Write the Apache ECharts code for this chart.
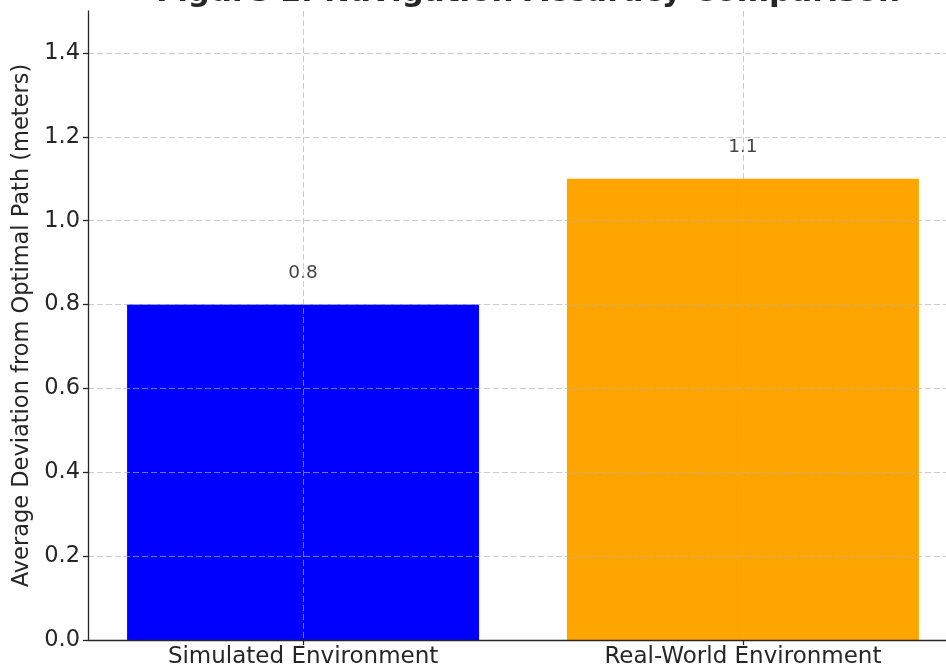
<!DOCTYPE html>
<html>
<head>
<meta charset="utf-8">
<script src="https://cdn.jsdelivr.net/npm/echarts@6/dist/echarts.min.js"></script>
<style>html,body{margin:0;padding:0;background:#fff}#c{width:946px;height:668px}</style>
</head>
<body>
<div id="c"></div>
<script>
const categories = ["Simulated Environment", "Real-World Environment"];
const deviations = [0.8, 1.1];
const barColors = ["#0000ff", "#ffa500"];
const yTicks = [0, 0.2, 0.4, 0.6, 0.8, 1.0, 1.2, 1.4];
const xTicks = [0, 1];
const titleText = "Figure 1: Navigation Accuracy Comparison";
const yName = "Average Deviation from Optimal Path (meters)";

const font = "DejaVu Sans";
const chart = echarts.init(document.getElementById('c'), null, {renderer: 'canvas'});
const gridLine = {show: true, lineStyle: {color: 'rgba(176,176,176,0.65)', type: [6, 3], width: 1}};
chart.setOption({
  animation: false,
  title: {
    text: titleText, left: 523, textAlign: 'center', top: -28,
    textStyle: {fontFamily: font, fontSize: 31, fontWeight: 'bold', color: '#262626'}
  },
  grid: {left: 88, top: 11, bottom: 28, right: -12, containLabel: false, outerBoundsMode: 'none'},
  xAxis: {
    type: 'value', min: -0.489, max: 1.489, zlevel: 1, z: 5,
    axisLine: {show: true, onZero: false, lineStyle: {color: '#262626', width: 1.3}},
    axisTick: {show: true, length: 5, customValues: xTicks, lineStyle: {color: '#262626', width: 1.3}},
    axisLabel: {customValues: xTicks, formatter: v => categories[Math.round(v)] || '',
      fontFamily: font, fontSize: 23, color: '#262626', margin: 6},
    splitLine: gridLine
  },
  yAxis: {
    type: 'value', min: 0, max: 1.5, zlevel: 1, z: 5,
    name: yName, nameLocation: 'middle', nameGap: 54,
    nameTextStyle: {fontFamily: font, fontSize: 22.5, color: '#262626'},
    axisLine: {show: true, onZero: false, lineStyle: {color: '#262626', width: 1.3}},
    axisTick: {show: true, length: 5, customValues: yTicks, lineStyle: {color: '#262626', width: 1.3}},
    axisLabel: {customValues: yTicks, formatter: v => v.toFixed(1),
      fontFamily: font, fontSize: 22.5, color: '#262626', margin: 8},
    splitLine: gridLine
  },
  series: [{
    type: 'bar', barWidth: 352, z: 2,
    data: categories.map((c, i) => ({value: [i, deviations[i]], itemStyle: {color: barColors[i]}})),
    label: {show: true, position: 'top', distance: 22, formatter: p => String(p.value[1]),
      fontFamily: font, fontSize: 18.5, color: '#444'}
  }]
});
</script>
</body>
</html>
